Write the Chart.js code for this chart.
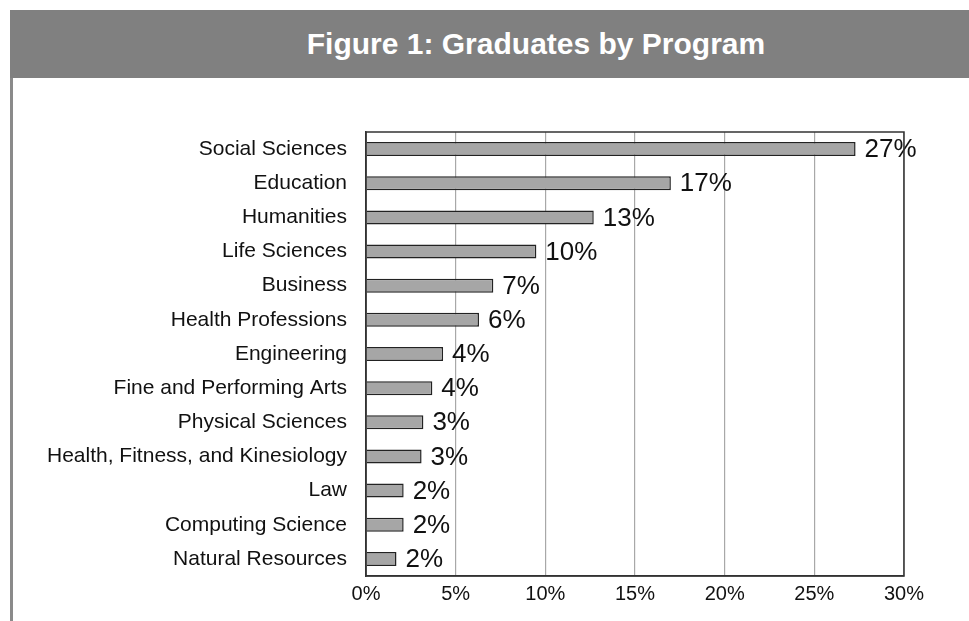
<!DOCTYPE html>
<html>
<head>
<meta charset="utf-8">
<script src="https://cdn.jsdelivr.net/npm/chart.js@4"></script>
<style>
  body { margin: 0; background: #fff; }
  #wrap { position: relative; width: 969px; height: 621px; overflow: hidden; }
  #header {
    position: absolute; left: 10px; top: 10px; width: 959px; height: 68px;
    background: #808080; color: #fff;
    font: bold 30px "Liberation Sans", Arial, sans-serif;
    line-height: 68px; text-align: center; box-sizing: border-box; padding-left: 93px;
  }
  #side { position: absolute; left: 10px; top: 78px; width: 3px; height: 543px; background: #8a8a8a; }
  #chart { position: absolute; left: 0; top: 0; }
</style>
</head>
<body>
<div id="wrap">
  <div id="header">Figure 1: Graduates by Program</div>
  <div id="side"></div>
  <canvas id="chart" width="969" height="621"></canvas>
</div>
<script>
// Programs, top to bottom
const programs = [
    'Social Sciences',
    'Education',
    'Humanities',
    'Life Sciences',
    'Business',
    'Health Professions',
    'Engineering',
    'Fine and Performing Arts',
    'Physical Sciences',
    'Health, Fitness, and Kinesiology',
    'Law',
    'Computing Science',
    'Natural Resources'
];

// Share of graduates (%)
const shares = [27.3, 17.0, 12.7, 9.5, 7.1, 6.3, 4.3, 3.7, 3.2, 3.1, 2.1, 2.1, 1.7];

// X axis range
const axisMin = 0;
const axisMax = 30;
const axisStep = 5;

const FONT = '"Liberation Sans", Arial, Helvetica, sans-serif';

// Value labels at the end of each bar + box around the plot
const barLabels = {
    id: 'barLabels',
    afterDatasetsDraw(chart) {
        const ctx = chart.ctx;
        const meta = chart.getDatasetMeta(0);
        ctx.save();
        ctx.font = '26px ' + FONT;
        ctx.fillStyle = '#111';
        ctx.textAlign = 'left';
        ctx.textBaseline = 'middle';
        meta.data.forEach((bar, i) => {
            ctx.fillText(Math.round(shares[i]) + '%', bar.x + 9, bar.y + 1);
        });
        const a = chart.chartArea;
        ctx.strokeStyle = '#333';
        ctx.lineWidth = 1.5;
        ctx.strokeRect(a.left, a.top, a.right - a.left, a.bottom - a.top);
        ctx.restore();
    }
};

new Chart(document.getElementById('chart').getContext('2d'), {
    type: 'bar',
    data: {
        labels: programs,
        datasets: [{
            data: shares,
            backgroundColor: '#a6a6a6',
            borderColor: '#222',
            borderWidth: 1.5,
            barPercentage: 0.41,
            categoryPercentage: 1
        }]
    },
    options: {
        indexAxis: 'y',
        responsive: false,
        animation: false,
        layout: { padding: { top: 132, right: 65, bottom: 0, left: 0 } },
        plugins: {
            legend: { display: false },
            tooltip: { enabled: false }
        },
        scales: {
            x: {
                min: axisMin,
                max: axisMax,
                afterFit(scale) { scale.height = 45; },
                ticks: {
                    stepSize: axisStep,
                    color: '#111',
                    font: { family: FONT, size: 20 },
                    padding: 6,
                    callback: v => v + '%'
                },
                grid: { color: '#a8a8a8', lineWidth: 1.2, drawTicks: false },
                border: { color: '#333', width: 1.5 }
            },
            y: {
                afterFit(scale) { scale.width = 366; },
                ticks: {
                    color: '#111',
                    font: { family: FONT, size: 21 },
                    padding: 19,
                    autoSkip: false
                },
                grid: { display: false, drawTicks: false },
                border: { color: '#333', width: 1.5 }
            }
        }
    },
    plugins: [barLabels]
});
</script>
</body>
</html>
